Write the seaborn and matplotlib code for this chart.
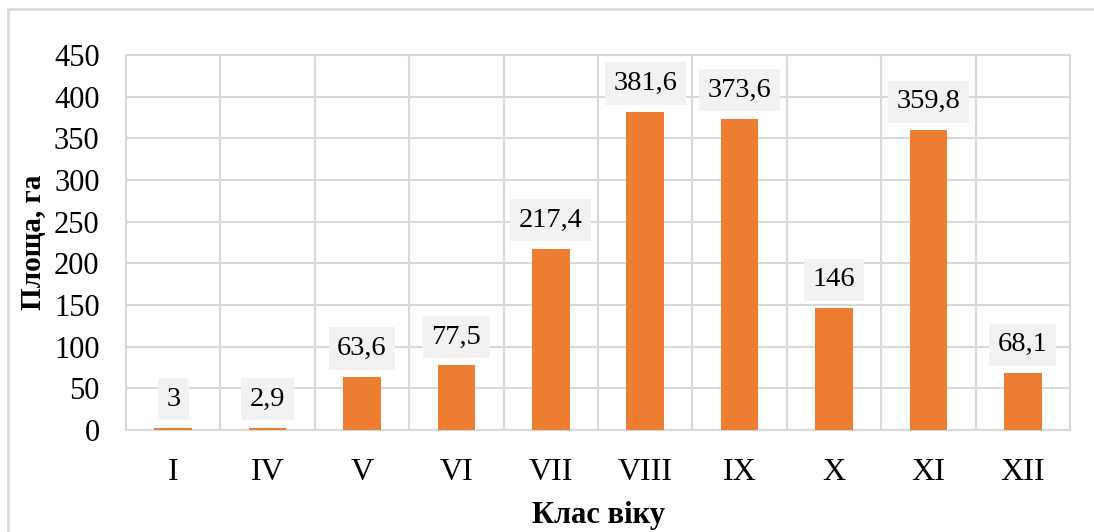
import matplotlib
matplotlib.use("Agg")
import matplotlib.pyplot as plt
from matplotlib.lines import Line2D
import seaborn as sns
import pandas as pd

# Age classes and stand area (ha)
age_classes = ["I", "IV", "V", "VI", "VII", "VIII", "IX", "X", "XI", "XII"]
area_ha = [3, 2.9, 63.6, 77.5, 217.4, 381.6, 373.6, 146, 359.8, 68.1]
value_labels = ["3", "2,9", "63,6", "77,5", "217,4", "381,6", "373,6", "146", "359,8", "68,1"]
y_ticks = [0, 50, 100, 150, 200, 250, 300, 350, 400, 450]

df = pd.DataFrame({"Клас віку": age_classes, "Площа, га": area_ha})

sns.set_theme(style="white")
plt.rcParams["font.family"] = ["Liberation Serif", "DejaVu Serif"]

W, H = 1094, 532
fig = plt.figure(figsize=(W / 100, H / 100), dpi=100)
ax = fig.add_axes([126 / W, 1 - 430 / H, (1070 - 126) / W, (430 - 55) / H])

bar_color = "#ED7D31"
grid_color = "#D9D9D9"

sns.barplot(data=df, x="Клас віку", y="Площа, га", color=bar_color,
            width=0.4, saturation=1, linewidth=0, edgecolor=bar_color,
            ax=ax, zorder=3)

ax.set_xlim(-0.5, len(age_classes) - 0.5)
ax.set_ylim(0, 450)
ax.set_yticks(y_ticks)
ax.set_yticklabels([str(t) for t in y_ticks], fontsize=22, color="black")
ax.tick_params(axis="y", length=0, pad=19)
ax.tick_params(axis="x", length=0, pad=20, labelsize=23, labelcolor="black")

# horizontal value gridlines and vertical category separators
ax.yaxis.grid(True, color=grid_color, linewidth=1.5, zorder=0)
for b in range(len(age_classes) + 1):
    ax.axvline(b - 0.5, color=grid_color, linewidth=1.5, zorder=0)
for side in ["left", "right", "top", "bottom"]:
    ax.spines[side].set_visible(True)
    ax.spines[side].set_color(grid_color)
    ax.spines[side].set_linewidth(1.5)
    ax.spines[side].set_zorder(1)

ax.set_xlabel("Клас віку", fontsize=22, fontweight="bold", color="black")
ax.set_ylabel("Площа, га", fontsize=21, fontweight="bold", color="black")
ax.yaxis.set_label_coords((34 - 126) / (1070 - 126), 0.5)
ax.xaxis.set_label_coords(0.5, -(516 - 430) / (430 - 55))
ax.xaxis.label.set_va("center")
ax.yaxis.label.set_va("center")

# value labels in light boxes above the bars
for i, (v, lab) in enumerate(zip(area_ha, value_labels)):
    ax.annotate(lab, xy=(i, v), xytext=(0, 20.5), textcoords="offset points",
                ha="center", va="center", fontsize=20.5, color="black", zorder=5,
                bbox=dict(boxstyle="square,pad=0.3", facecolor="#F2F2F2",
                          edgecolor="none"))

# chart area border
fig.add_artist(Line2D([8 / W, 8 / W], [0, 1 - 9 / H], transform=fig.transFigure,
                      color=grid_color, linewidth=2))
fig.add_artist(Line2D([8 / W, 1], [1 - 9 / H, 1 - 9 / H], transform=fig.transFigure,
                      color=grid_color, linewidth=2))

fig.savefig("out.png", dpi=100)
